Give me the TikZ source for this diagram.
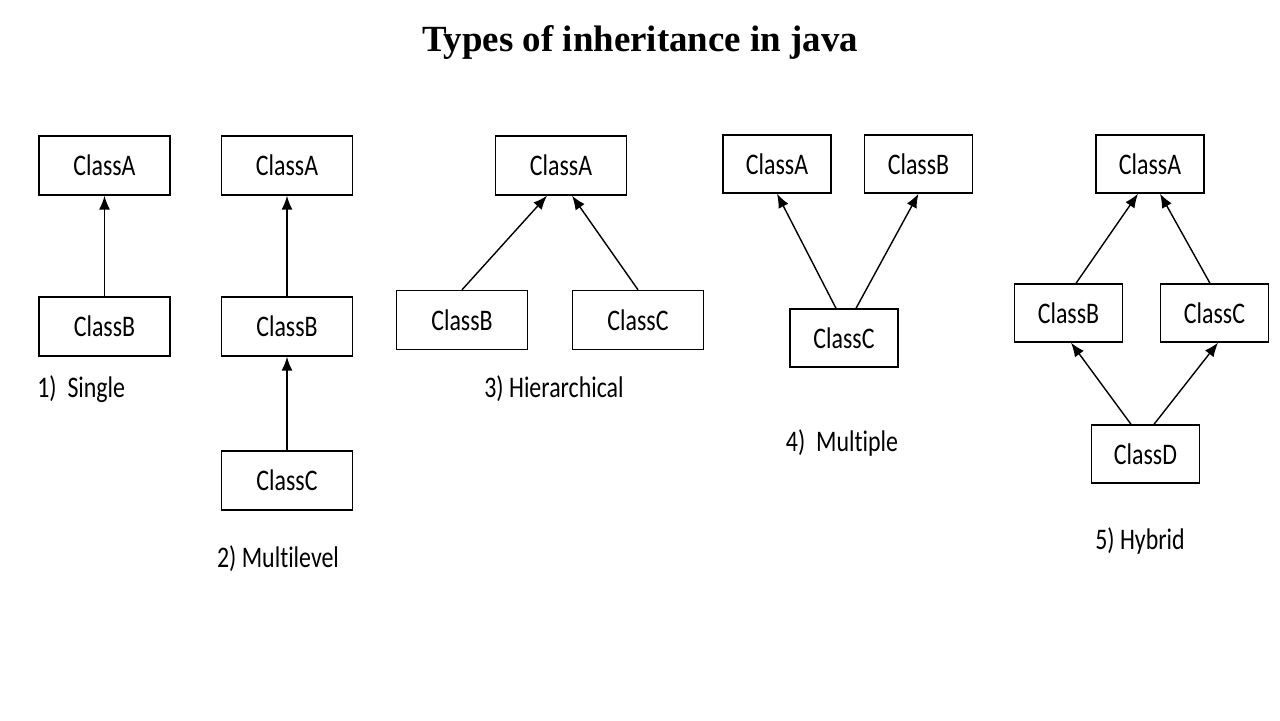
\documentclass[tikz,border=0pt]{standalone}
\usepackage{fontspec}
\setmainfont{Liberation Serif}
\newfontfamily\boxfont[FakeStretch=0.8,Ligatures=NoCommon]{Carlito}
\usetikzlibrary{arrows.meta,positioning}
\tikzset{
  >={Latex[length=2.8mm,width=2.2mm]},
  cls/.style={draw=black,line width=0.8pt,fill=white,minimum width=2.62cm,minimum height=1.18cm,
    font=\boxfont\fontsize{17}{19}\selectfont,inner sep=0pt},
  cls small/.style={cls,minimum width=2.16cm,minimum height=1.16cm},
  ext/.style={->,line width=0.8pt,draw=black},
  kind/.style={font=\boxfont\fontsize{17}{19}\selectfont,inner sep=0pt}
}
\begin{document}
\begin{tikzpicture}[x=0.02cm,y=-0.02cm]
  \useasboundingbox[fill=white] (0,0) rectangle (1280,720);
  \node[font=\bfseries\fontsize{21}{25}\selectfont] (title) at (640,42) {Types of inheritance in java};

  % 1) single
  \node[cls] (sA) at (104.5,165.5) {ClassA};
  \node[cls] (sB) at (104.5,326.5) {ClassB};
  \draw[ext] (sB.north) -- (sA.south);
  \node[kind,anchor=west] (sL) at (37,389) {1)~~Single};

  % 2) multilevel
  \node[cls] (mA) at (287,165.5) {ClassA};
  \node[cls] (mB) at (287,326.5) {ClassB};
  \node[cls] (mC) at (287,480.5) {ClassC};
  \draw[ext] (mB.north) -- (mA.south);
  \draw[ext] (mC.north) -- (mB.south);
  \node[kind] (mL) at (278,559) {2) Multilevel};

  % 3) hierarchical
  \node[cls] (hA) at (561,165.5) {ClassA};
  \node[cls] (hB) at (462,320) {ClassB};
  \node[cls] (hC) at (638,320) {ClassC};
  \draw[ext] (hB.north) -- ([xshift=-2.8mm]hA.south);
  \draw[ext] (hC.north) -- ([xshift=2.2mm]hA.south);
  \node[kind] (hL) at (554,389) {3) Hierarchical};

  % 4) multiple
  \node[cls small] (pA) at (777,164) {ClassA};
  \node[cls small] (pB) at (918.5,164) {ClassB};
  \node[cls small] (pC) at (844,338) {ClassC};
  \draw[ext] ([xshift=-1.6mm]pC.north) -- (pA.south);
  \draw[ext] ([xshift=2.4mm]pC.north) -- (pB.south);
  \node[kind] (pL) at (842,443) {4)~~Multiple};

  % 5) hybrid
  \node[cls small] (yA) at (1150,164) {ClassA};
  \node[cls small] (yB) at (1068.5,313) {ClassB};
  \node[cls small] (yC) at (1214.5,313) {ClassC};
  \node[cls small] (yD) at (1145.5,454) {ClassD};
  \draw[ext] ([xshift=1.5mm]yB.north) -- ([xshift=-2.4mm]yA.south);
  \draw[ext] ([xshift=-0.9mm]yC.north) -- ([xshift=2mm]yA.south);
  \draw[ext] ([xshift=-2.9mm]yD.north) -- ([xshift=0.5mm]yB.south);
  \draw[ext] ([xshift=1.7mm]yD.north) -- ([xshift=0.7mm]yC.south);
  \node[kind] (yL) at (1140,541) {5) Hybrid};
\end{tikzpicture}
\end{document}
